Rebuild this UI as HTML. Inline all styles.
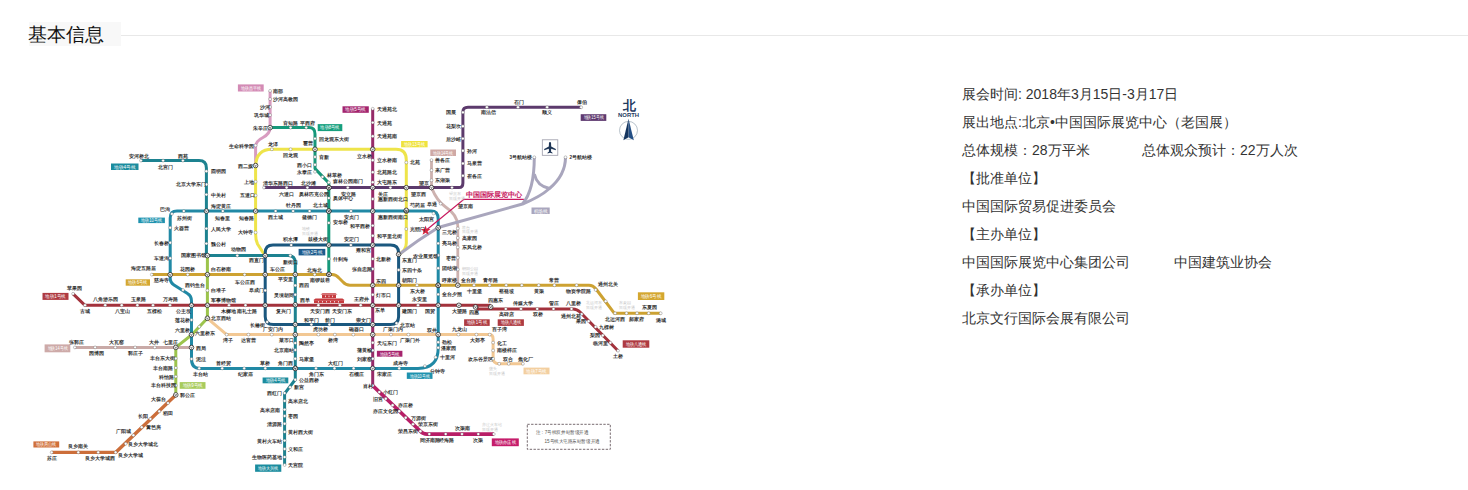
<!DOCTYPE html>
<html><head><meta charset="utf-8">
<style>
html,body{margin:0;padding:0;background:#fff;width:1468px;height:490px;overflow:hidden;position:relative;font-family:"Liberation Sans",sans-serif;}
.hd{position:absolute;left:29px;top:22px;width:92px;height:24px;background:#f8f8f8;}
.hd span{position:absolute;left:-1.5px;top:0.5px;font-size:18.5px;line-height:24px;color:#111;white-space:nowrap;}
.hl{position:absolute;left:121px;top:35px;width:1347px;height:1px;background:#e8e8e8;}
.info{position:absolute;left:962px;top:80px;font-size:14px;line-height:28px;color:#333;white-space:nowrap;}
.info div{height:28px;position:relative;}
#map{position:absolute;left:0;top:0;}
</style></head><body>
<div class="hd"><span>基本信息</span></div>
<div class="hl"></div>
<svg id="map" width="1468" height="490" viewBox="0 0 1468 490">
<g fill="none" stroke-linejoin="round" stroke-linecap="butt">
<path stroke="#CDB2AF" stroke-width="2.8" d="M431.5,159.8 V187.6 Q437,201 445,206.5 Q457.8,215 457.8,226 V285.5"/>
<path stroke="#C9AAA7" stroke-width="3.0" d="M74.9,347.4 H191.5"/>
<path stroke="#D89CC0" stroke-width="3.0" d="M270.1,90.9 V127.6 Q270,134 263,137.5 Q255.6,141 255.6,147 V165.5"/>
<path stroke="#EEE44A" stroke-width="3.0" d="M265,255.6 L257.5,244 Q255.6,240 255.6,234 V165.6 Q256.5,149.3 272,149.3 H396 Q406.3,149.3 406.3,160 V243 Q406.3,250 399.2,254.3"/>
<path stroke="#5C3A6C" stroke-width="3.0" d="M264.3,187.6 H459 Q462.9,187.6 462.9,183 V112 Q462.9,107.3 468,107.3 H581.2"/>
<path stroke="#16987A" stroke-width="3.0" d="M270.1,127.6 H309 Q315,127.6 315,134 V168.6 L328.8,183 V274.4"/>
<path stroke="#1D8290" stroke-width="3.0" d="M141,160.6 H199 Q206.4,160.6 206.4,168 V255.6 H288 Q295.3,255.6 295.3,263 V379.5 L284.6,393.6 V465"/>
<path stroke="#9CC44C" stroke-width="3.0" d="M207.4,255.6 V318.3 L191.5,335 L175.8,347.4 V394.9"/>
<path stroke="#CC6E3A" stroke-width="3.4" d="M175.8,394.9 L115.6,452.4 H51.7"/>
<path stroke="#2189A5" stroke-width="3.0" d="M177,211.1 H431 Q438.2,211.1 438.2,219 V348 Q438.2,368.4 418,368.4 H200 Q191.5,368.4 191.5,359 V301 Q191.5,296 187.5,293.6 L174,285 Q170.2,282.5 170.2,278 V218 Q170.2,211.1 177,211.1 Z"/>
<path stroke="#1B587F" stroke-width="3.0" d="M273,245.1 H390.5 Q398.6,245.1 398.6,253 V316.5 Q398.6,324.6 390.5,324.6 H273.3 Q265.2,324.6 265.2,316.5 V253 Q265.2,245.1 273,245.1 Z"/>
<path stroke="#962A68" stroke-width="3.0" d="M372.7,108.8 V385.6"/>
<path stroke="#B81E67" stroke-width="3.6" d="M372.7,385.6 L420.4,431.3 Q423,434.1 427,434.1 H493.8"/>
<path stroke="#CDA232" stroke-width="3.0" d="M151.8,274.6 H332 Q336,274.6 339,278 L343,282 Q346,285.3 350,285.3 H589 Q593,285.3 596,289 L614.4,313.3 H660.7"/>
<path stroke="#F2C894" stroke-width="3.0" d="M207.4,318.3 L226.7,334.6 H489 Q493.1,334.6 493.1,339 V358 Q493.1,363.8 499,363.8 H522.9"/>
<path stroke="#A3323C" stroke-width="3.0" d="M73.1,293.8 L85,305.3 H475.5 L478,308.9 H573 Q577,308.9 580,312 L618,350.7"/>
<path stroke="#A3323C" stroke-width="3.0" d="M475.5,305.3 H490.7"/>
<path stroke="#A9A6BD" stroke-width="3.0" d="M399.2,254.3 Q418,240 438.2,227.5 L522.5,204 Q540,197 549.5,188.5 Q565.5,175 565.5,157.3"/>
<path stroke="#A9A6BD" stroke-width="3.0" d="M522.5,204 Q534.3,190 534.3,157.3"/>
<path stroke="#A9A6BD" stroke-width="3.0" d="M534.3,174 Q537,186 549.5,188.5"/>
</g>
<path d="M425.5,230.8 L463.9,199.3 H523.8" fill="none" stroke="#C8195F" stroke-width="1.3"/>
<text x="465.6" y="197" font-size="7.3" font-weight="bold" fill="#C8195F" font-family="Liberation Sans,sans-serif" textLength="57" lengthAdjust="spacingAndGlyphs">中国国际展览中心</text>
<polygon points="425.6,225.4 426.8,228.9 430.5,229.0 427.6,231.2 428.7,234.8 425.6,232.7 422.5,234.8 423.6,231.2 420.7,229.0 424.4,228.9" fill="#D8263F"/>
<g fill="#fff" stroke="#555" stroke-width="0.35">
<circle cx="141" cy="160.6" r="1.45"/>
<circle cx="163.1" cy="160.6" r="1.45"/>
<circle cx="182.9" cy="160.6" r="1.45"/>
<circle cx="206.4" cy="171.3" r="1.45"/>
<circle cx="206.4" cy="184.5" r="1.45"/>
<circle cx="206.4" cy="194.6" r="1.45"/>
<circle cx="206.4" cy="228.6" r="1.45"/>
<circle cx="206.4" cy="243.6" r="1.45"/>
<circle cx="237.3" cy="255.6" r="1.45"/>
<circle cx="290.3" cy="255.6" r="1.45"/>
<circle cx="295.3" cy="285.5" r="1.45"/>
<circle cx="295.3" cy="294.7" r="1.45"/>
<circle cx="295.3" cy="343.1" r="1.45"/>
<circle cx="295.3" cy="350" r="1.45"/>
<circle cx="295.3" cy="358.7" r="1.45"/>
<circle cx="295.3" cy="379.8" r="1.45"/>
<circle cx="290.1" cy="387.2" r="1.45"/>
<circle cx="284.6" cy="393.1" r="1.45"/>
<circle cx="284.6" cy="400.9" r="1.45"/>
<circle cx="284.6" cy="409.6" r="1.45"/>
<circle cx="284.6" cy="416" r="1.45"/>
<circle cx="284.6" cy="423.8" r="1.45"/>
<circle cx="284.6" cy="431.9" r="1.45"/>
<circle cx="284.6" cy="440.6" r="1.45"/>
<circle cx="284.6" cy="449" r="1.45"/>
<circle cx="284.6" cy="457.1" r="1.45"/>
<circle cx="284.6" cy="465" r="1.45"/>
<circle cx="171.9" cy="213.9" r="1.45"/>
<circle cx="183.8" cy="211.1" r="1.45"/>
<circle cx="222.8" cy="211.1" r="1.45"/>
<circle cx="170.2" cy="227.7" r="1.45"/>
<circle cx="170.2" cy="242.7" r="1.45"/>
<circle cx="170.2" cy="258.3" r="1.45"/>
<circle cx="183" cy="290" r="1.45"/>
<circle cx="191.5" cy="320" r="1.45"/>
<circle cx="191.5" cy="359" r="1.45"/>
<circle cx="199.2" cy="368.4" r="1.45"/>
<circle cx="222.2" cy="368.4" r="1.45"/>
<circle cx="244.2" cy="368.4" r="1.45"/>
<circle cx="265.3" cy="368.4" r="1.45"/>
<circle cx="316" cy="368.4" r="1.45"/>
<circle cx="334.5" cy="368.4" r="1.45"/>
<circle cx="353.6" cy="368.4" r="1.45"/>
<circle cx="399.2" cy="368.4" r="1.45"/>
<circle cx="424.9" cy="366.1" r="1.45"/>
<circle cx="435.6" cy="357.3" r="1.45"/>
<circle cx="438.2" cy="342.2" r="1.45"/>
<circle cx="438.2" cy="347.7" r="1.45"/>
<circle cx="438.2" cy="294.4" r="1.45"/>
<circle cx="438.2" cy="268.2" r="1.45"/>
<circle cx="438.2" cy="255.3" r="1.45"/>
<circle cx="438.2" cy="243.4" r="1.45"/>
<circle cx="433.6" cy="213.4" r="1.45"/>
<circle cx="275.6" cy="211.1" r="1.45"/>
<circle cx="293.1" cy="211.1" r="1.45"/>
<circle cx="309.6" cy="211.1" r="1.45"/>
<circle cx="351" cy="211.1" r="1.45"/>
<circle cx="255.6" cy="145.5" r="1.45"/>
<circle cx="255.6" cy="181.7" r="1.45"/>
<circle cx="255.6" cy="195.5" r="1.45"/>
<circle cx="255.6" cy="232.5" r="1.45"/>
<circle cx="271.9" cy="149.3" r="1.45"/>
<circle cx="290.6" cy="149.3" r="1.45"/>
<circle cx="406.3" cy="162.5" r="1.45"/>
<circle cx="406.3" cy="229" r="1.45"/>
<circle cx="270.1" cy="90.9" r="1.45"/>
<circle cx="270.1" cy="99.1" r="1.45"/>
<circle cx="270.1" cy="107" r="1.45"/>
<circle cx="270.1" cy="115.1" r="1.45"/>
<circle cx="290.6" cy="127.6" r="1.45"/>
<circle cx="306.2" cy="127.6" r="1.45"/>
<circle cx="315" cy="138.6" r="1.45"/>
<circle cx="315" cy="157" r="1.45"/>
<circle cx="315" cy="164.8" r="1.45"/>
<circle cx="315" cy="171.8" r="1.45"/>
<circle cx="322.5" cy="176.9" r="1.45"/>
<circle cx="328.8" cy="182.5" r="1.45"/>
<circle cx="328.8" cy="258.9" r="1.45"/>
<circle cx="328.8" cy="198.1" r="1.45"/>
<circle cx="328.8" cy="222.9" r="1.45"/>
<circle cx="264" cy="187.6" r="1.45"/>
<circle cx="286.6" cy="187.6" r="1.45"/>
<circle cx="307.4" cy="187.6" r="1.45"/>
<circle cx="347.8" cy="187.6" r="1.45"/>
<circle cx="390.4" cy="187.6" r="1.45"/>
<circle cx="452" cy="187.6" r="1.45"/>
<circle cx="462.9" cy="175.7" r="1.45"/>
<circle cx="462.9" cy="163.5" r="1.45"/>
<circle cx="462.9" cy="150.8" r="1.45"/>
<circle cx="462.9" cy="138.6" r="1.45"/>
<circle cx="462.9" cy="126.3" r="1.45"/>
<circle cx="462.9" cy="112.4" r="1.45"/>
<circle cx="486.9" cy="107.3" r="1.45"/>
<circle cx="518" cy="107.3" r="1.45"/>
<circle cx="547.1" cy="107.3" r="1.45"/>
<circle cx="581.2" cy="107.3" r="1.45"/>
<circle cx="431.5" cy="160.1" r="1.45"/>
<circle cx="431.5" cy="170.2" r="1.45"/>
<circle cx="431.5" cy="180.3" r="1.45"/>
<circle cx="440.6" cy="203.6" r="1.45"/>
<circle cx="457.8" cy="228.5" r="1.45"/>
<circle cx="457.8" cy="237.9" r="1.45"/>
<circle cx="457.8" cy="247.4" r="1.45"/>
<circle cx="457.8" cy="257.7" r="1.45"/>
<circle cx="457.8" cy="269.5" r="1.45"/>
<circle cx="372.7" cy="108.8" r="1.45"/>
<circle cx="372.7" cy="122.6" r="1.45"/>
<circle cx="372.7" cy="136.3" r="1.45"/>
<circle cx="372.7" cy="160.2" r="1.45"/>
<circle cx="372.7" cy="172.2" r="1.45"/>
<circle cx="372.7" cy="182.3" r="1.45"/>
<circle cx="372.7" cy="199" r="1.45"/>
<circle cx="372.7" cy="225.6" r="1.45"/>
<circle cx="372.7" cy="235.7" r="1.45"/>
<circle cx="372.7" cy="258.9" r="1.45"/>
<circle cx="372.7" cy="269" r="1.45"/>
<circle cx="372.7" cy="294.7" r="1.45"/>
<circle cx="372.7" cy="342.7" r="1.45"/>
<circle cx="372.7" cy="350.4" r="1.45"/>
<circle cx="372.7" cy="358.7" r="1.45"/>
<circle cx="372.7" cy="385.6" r="1.45"/>
<circle cx="379.3" cy="392.1" r="1.45"/>
<circle cx="385.8" cy="398.7" r="1.45"/>
<circle cx="392.6" cy="405.2" r="1.45"/>
<circle cx="399.2" cy="411.2" r="1.45"/>
<circle cx="405.7" cy="417.7" r="1.45"/>
<circle cx="413" cy="424.3" r="1.45"/>
<circle cx="420.4" cy="431.3" r="1.45"/>
<circle cx="429.3" cy="434.1" r="1.45"/>
<circle cx="445.7" cy="434.1" r="1.45"/>
<circle cx="462" cy="434.1" r="1.45"/>
<circle cx="478.3" cy="434.1" r="1.45"/>
<circle cx="493.8" cy="434.1" r="1.45"/>
<circle cx="291.2" cy="245.1" r="1.45"/>
<circle cx="350.9" cy="245.1" r="1.45"/>
<circle cx="265.2" cy="290.5" r="1.45"/>
<circle cx="311.4" cy="324.6" r="1.45"/>
<circle cx="329.4" cy="324.6" r="1.45"/>
<circle cx="396.5" cy="323.2" r="1.45"/>
<circle cx="398.6" cy="270" r="1.45"/>
<circle cx="267.2" cy="322" r="1.45"/>
<circle cx="151.8" cy="274.6" r="1.45"/>
<circle cx="187.7" cy="274.6" r="1.45"/>
<circle cx="244.6" cy="274.6" r="1.45"/>
<circle cx="314.7" cy="274.6" r="1.45"/>
<circle cx="417" cy="285.3" r="1.45"/>
<circle cx="474" cy="285.3" r="1.45"/>
<circle cx="489.6" cy="285.3" r="1.45"/>
<circle cx="506.2" cy="285.3" r="1.45"/>
<circle cx="521.8" cy="285.3" r="1.45"/>
<circle cx="538.7" cy="285.3" r="1.45"/>
<circle cx="554.4" cy="285.3" r="1.45"/>
<circle cx="576.6" cy="285.3" r="1.45"/>
<circle cx="595.6" cy="289.9" r="1.45"/>
<circle cx="605.7" cy="301.3" r="1.45"/>
<circle cx="615.1" cy="313.3" r="1.45"/>
<circle cx="626.5" cy="313.3" r="1.45"/>
<circle cx="637" cy="313.3" r="1.45"/>
<circle cx="648.7" cy="313.3" r="1.45"/>
<circle cx="660.7" cy="313.3" r="1.45"/>
<circle cx="73.1" cy="293.8" r="1.45"/>
<circle cx="85" cy="305.3" r="1.45"/>
<circle cx="105.2" cy="305.3" r="1.45"/>
<circle cx="121.7" cy="305.3" r="1.45"/>
<circle cx="137.4" cy="305.3" r="1.45"/>
<circle cx="153" cy="305.3" r="1.45"/>
<circle cx="170" cy="305.3" r="1.45"/>
<circle cx="229" cy="305.3" r="1.45"/>
<circle cx="245.5" cy="305.3" r="1.45"/>
<circle cx="318.4" cy="305.3" r="1.45"/>
<circle cx="339.9" cy="305.3" r="1.45"/>
<circle cx="360.7" cy="305.3" r="1.45"/>
<circle cx="418" cy="305.3" r="1.45"/>
<circle cx="505.8" cy="308.9" r="1.45"/>
<circle cx="521" cy="308.9" r="1.45"/>
<circle cx="537.2" cy="308.9" r="1.45"/>
<circle cx="553.5" cy="308.9" r="1.45"/>
<circle cx="571.5" cy="308.9" r="1.45"/>
<circle cx="581.6" cy="314.2" r="1.45"/>
<circle cx="588.6" cy="321.2" r="1.45"/>
<circle cx="595.6" cy="326.9" r="1.45"/>
<circle cx="602.8" cy="335.5" r="1.45"/>
<circle cx="610.4" cy="342.7" r="1.45"/>
<circle cx="618" cy="350.7" r="1.45"/>
<circle cx="199.3" cy="326.7" r="1.45"/>
<circle cx="175.8" cy="358.5" r="1.45"/>
<circle cx="175.8" cy="367.9" r="1.45"/>
<circle cx="175.8" cy="376.6" r="1.45"/>
<circle cx="175.8" cy="385.5" r="1.45"/>
<circle cx="207.4" cy="290.5" r="1.45"/>
<circle cx="226.7" cy="334.6" r="1.45"/>
<circle cx="248.4" cy="334.6" r="1.45"/>
<circle cx="271.8" cy="334.6" r="1.45"/>
<circle cx="318.4" cy="334.6" r="1.45"/>
<circle cx="334.9" cy="334.6" r="1.45"/>
<circle cx="353.3" cy="334.6" r="1.45"/>
<circle cx="391" cy="334.6" r="1.45"/>
<circle cx="408.4" cy="334.6" r="1.45"/>
<circle cx="458.4" cy="334.6" r="1.45"/>
<circle cx="476.4" cy="334.6" r="1.45"/>
<circle cx="489.7" cy="334.6" r="1.45"/>
<circle cx="493.1" cy="342.6" r="1.45"/>
<circle cx="493.1" cy="350.5" r="1.45"/>
<circle cx="493.1" cy="358.7" r="1.45"/>
<circle cx="499.2" cy="363.8" r="1.45"/>
<circle cx="508.7" cy="363.8" r="1.45"/>
<circle cx="522.9" cy="363.8" r="1.45"/>
<circle cx="168" cy="403.1" r="1.45"/>
<circle cx="159.3" cy="411.4" r="1.45"/>
<circle cx="150.4" cy="418.9" r="1.45"/>
<circle cx="141.7" cy="427.3" r="1.45"/>
<circle cx="133.4" cy="435.3" r="1.45"/>
<circle cx="125.7" cy="443.8" r="1.45"/>
<circle cx="115.6" cy="452.4" r="1.45"/>
<circle cx="98.2" cy="452.4" r="1.45"/>
<circle cx="78.3" cy="452.4" r="1.45"/>
<circle cx="51.7" cy="452.4" r="1.45"/>
<circle cx="74.9" cy="347.4" r="1.45"/>
<circle cx="95.1" cy="347.4" r="1.45"/>
<circle cx="115.3" cy="347.4" r="1.45"/>
<circle cx="135.1" cy="347.4" r="1.45"/>
<circle cx="154.8" cy="347.4" r="1.45"/>
<circle cx="534.3" cy="157.3" r="1.45"/>
<circle cx="565.5" cy="157.3" r="1.45"/>
</g>
<g fill="#fff" stroke="#222" stroke-width="0.75">
<circle cx="206.4" cy="211.1" r="2.3"/>
<circle cx="207.4" cy="255.6" r="2.3"/>
<circle cx="295.3" cy="274.5" r="2.3"/>
<circle cx="295.3" cy="304.8" r="2.3"/>
<circle cx="295.3" cy="324.5" r="2.3"/>
<circle cx="295.3" cy="334.6" r="2.3"/>
<circle cx="295.3" cy="368.4" r="2.3"/>
<circle cx="255.6" cy="211.1" r="2.3"/>
<circle cx="170.2" cy="274.7" r="2.3"/>
<circle cx="191.5" cy="305.3" r="2.3"/>
<circle cx="191.5" cy="334.7" r="2.3"/>
<circle cx="191.5" cy="347.5" r="2.3"/>
<circle cx="295.3" cy="368.4" r="2.3"/>
<circle cx="372.7" cy="368.4" r="2.3"/>
<circle cx="438.2" cy="334.6" r="2.3"/>
<circle cx="438.2" cy="305.3" r="2.3"/>
<circle cx="438.2" cy="285.3" r="2.3"/>
<circle cx="438.2" cy="227.8" r="2.3"/>
<circle cx="406.3" cy="211.1" r="2.3"/>
<circle cx="372.7" cy="211.1" r="2.3"/>
<circle cx="328.8" cy="211.1" r="2.3"/>
<circle cx="255.6" cy="165.5" r="2.3"/>
<circle cx="315" cy="149.3" r="2.3"/>
<circle cx="372.7" cy="149.3" r="2.3"/>
<circle cx="406.3" cy="187.6" r="2.3"/>
<circle cx="406.3" cy="210.3" r="2.3"/>
<circle cx="270.1" cy="127.6" r="2.3"/>
<circle cx="328.8" cy="187.6" r="2.3"/>
<circle cx="328.8" cy="211.1" r="2.3"/>
<circle cx="328.8" cy="245.1" r="2.3"/>
<circle cx="328.8" cy="274.4" r="2.3"/>
<circle cx="328.9" cy="187.6" r="2.3"/>
<circle cx="372.7" cy="187.6" r="2.3"/>
<circle cx="431.5" cy="187.6" r="2.3"/>
<circle cx="457.8" cy="285.3" r="2.3"/>
<circle cx="458.9" cy="305.3" r="2.3"/>
<circle cx="372.7" cy="245.1" r="2.3"/>
<circle cx="372.7" cy="285.3" r="2.3"/>
<circle cx="372.7" cy="305.3" r="2.3"/>
<circle cx="372.7" cy="324.6" r="2.3"/>
<circle cx="372.7" cy="334.6" r="2.3"/>
<circle cx="265.2" cy="255.6" r="2.3"/>
<circle cx="265.2" cy="274.6" r="2.3"/>
<circle cx="265.2" cy="305.3" r="2.3"/>
<circle cx="398.6" cy="254.3" r="2.3"/>
<circle cx="398.6" cy="285.3" r="2.3"/>
<circle cx="398.6" cy="305.3" r="2.3"/>
<circle cx="207.4" cy="274.6" r="2.3"/>
<circle cx="329" cy="274.4" r="2.3"/>
<circle cx="438.2" cy="285.3" r="2.3"/>
<circle cx="207.4" cy="305.3" r="2.3"/>
<circle cx="475.5" cy="307" r="2.3"/>
<circle cx="490.7" cy="307" r="2.3"/>
<circle cx="207.4" cy="318.3" r="2.3"/>
<circle cx="175.8" cy="347.4" r="2.3"/>
<circle cx="175.8" cy="394.9" r="2.3"/>
</g>
<g fill="none" stroke="#333" stroke-width="0.6">
<path d="M205.4,210.2 L206.4,212.1 L207.4,210.2"/>
<path d="M206.4,254.7 L207.4,256.6 L208.4,254.7"/>
<path d="M294.3,273.6 L295.3,275.5 L296.3,273.6"/>
<path d="M294.3,303.9 L295.3,305.8 L296.3,303.9"/>
<path d="M294.3,323.6 L295.3,325.5 L296.3,323.6"/>
<path d="M294.3,333.7 L295.3,335.6 L296.3,333.7"/>
<path d="M294.3,367.5 L295.3,369.4 L296.3,367.5"/>
<path d="M254.6,210.2 L255.6,212.1 L256.6,210.2"/>
<path d="M169.2,273.8 L170.2,275.7 L171.2,273.8"/>
<path d="M190.5,304.4 L191.5,306.3 L192.5,304.4"/>
<path d="M190.5,333.8 L191.5,335.7 L192.5,333.8"/>
<path d="M190.5,346.6 L191.5,348.5 L192.5,346.6"/>
<path d="M294.3,367.5 L295.3,369.4 L296.3,367.5"/>
<path d="M371.7,367.5 L372.7,369.4 L373.7,367.5"/>
<path d="M437.2,333.7 L438.2,335.6 L439.2,333.7"/>
<path d="M437.2,304.4 L438.2,306.3 L439.2,304.4"/>
<path d="M437.2,284.4 L438.2,286.3 L439.2,284.4"/>
<path d="M437.2,226.9 L438.2,228.8 L439.2,226.9"/>
<path d="M405.3,210.2 L406.3,212.1 L407.3,210.2"/>
<path d="M371.7,210.2 L372.7,212.1 L373.7,210.2"/>
<path d="M327.8,210.2 L328.8,212.1 L329.8,210.2"/>
<path d="M254.6,164.6 L255.6,166.5 L256.6,164.6"/>
<path d="M314,148.4 L315,150.3 L316,148.4"/>
<path d="M371.7,148.4 L372.7,150.3 L373.7,148.4"/>
<path d="M405.3,186.7 L406.3,188.6 L407.3,186.7"/>
<path d="M405.3,209.4 L406.3,211.3 L407.3,209.4"/>
<path d="M269.1,126.7 L270.1,128.6 L271.1,126.7"/>
<path d="M327.8,186.7 L328.8,188.6 L329.8,186.7"/>
<path d="M327.8,210.2 L328.8,212.1 L329.8,210.2"/>
<path d="M327.8,244.2 L328.8,246.1 L329.8,244.2"/>
<path d="M327.8,273.5 L328.8,275.4 L329.8,273.5"/>
<path d="M327.9,186.7 L328.9,188.6 L329.9,186.7"/>
<path d="M371.7,186.7 L372.7,188.6 L373.7,186.7"/>
<path d="M430.5,186.7 L431.5,188.6 L432.5,186.7"/>
<path d="M456.8,284.4 L457.8,286.3 L458.8,284.4"/>
<path d="M457.9,304.4 L458.9,306.3 L459.9,304.4"/>
<path d="M371.7,244.2 L372.7,246.1 L373.7,244.2"/>
<path d="M371.7,284.4 L372.7,286.3 L373.7,284.4"/>
<path d="M371.7,304.4 L372.7,306.3 L373.7,304.4"/>
<path d="M371.7,323.7 L372.7,325.6 L373.7,323.7"/>
<path d="M371.7,333.7 L372.7,335.6 L373.7,333.7"/>
<path d="M264.2,254.7 L265.2,256.6 L266.2,254.7"/>
<path d="M264.2,273.7 L265.2,275.6 L266.2,273.7"/>
<path d="M264.2,304.4 L265.2,306.3 L266.2,304.4"/>
<path d="M397.6,253.4 L398.6,255.3 L399.6,253.4"/>
<path d="M397.6,284.4 L398.6,286.3 L399.6,284.4"/>
<path d="M397.6,304.4 L398.6,306.3 L399.6,304.4"/>
<path d="M206.4,273.7 L207.4,275.6 L208.4,273.7"/>
<path d="M328,273.5 L329,275.4 L330,273.5"/>
<path d="M437.2,284.4 L438.2,286.3 L439.2,284.4"/>
<path d="M206.4,304.4 L207.4,306.3 L208.4,304.4"/>
<path d="M474.5,306.1 L475.5,308 L476.5,306.1"/>
<path d="M489.7,306.1 L490.7,308 L491.7,306.1"/>
<path d="M206.4,317.4 L207.4,319.3 L208.4,317.4"/>
<path d="M174.8,346.5 L175.8,348.4 L176.8,346.5"/>
<path d="M174.8,394 L175.8,395.9 L176.8,394"/>
</g>
<g font-size="4.5" fill="#2a2a2a" font-weight="bold" font-family="Liberation Sans,sans-serif">
<text x="128.6" y="157.5">安河桥北</text>
<text x="157.6" y="169.4">北宫门</text>
<text x="177.8" y="157.5">西苑</text>
<text x="210.8" y="173.2">圆明园</text>
<text x="175.9" y="186.4">北京大学东门</text>
<text x="210.8" y="196.5">中关村</text>
<text x="210.8" y="207.6">海淀黄庄</text>
<text x="210.8" y="230.5">人民大学</text>
<text x="210.8" y="245.5">魏公村</text>
<text x="181" y="257.1">国家图书馆</text>
<text x="231" y="251.4">动物园</text>
<text x="249" y="262.4">西直门</text>
<text x="283" y="264.4">新街口</text>
<text x="278" y="281.4">平安里</text>
<text x="299" y="287.4">西四</text>
<text x="273.5" y="296.6">灵境胡同</text>
<text x="299.5" y="301.9">西单</text>
<text x="298.6" y="345">陶然亭</text>
<text x="274" y="351.9">北京南站</text>
<text x="298.6" y="360.6">马家堡</text>
<text x="299" y="381.7">公益西桥</text>
<text x="293.5" y="389.1">新宫</text>
<text x="267" y="395">西红门</text>
<text x="288" y="402.8">高米店北</text>
<text x="259.5" y="411.5">高米店南</text>
<text x="288" y="417.9">枣园</text>
<text x="266.5" y="425.7">清源路</text>
<text x="288" y="433.8">黄村西大街</text>
<text x="257" y="442.5">黄村火车站</text>
<text x="288" y="450.9">义和庄</text>
<text x="251.5" y="459">生物医药基地</text>
<text x="288" y="466.9">天宫院</text>
<text x="160.3" y="211.2">巴沟</text>
<text x="176.8" y="219.9">苏州街</text>
<text x="215.4" y="219.9">知春里</text>
<text x="239.3" y="219.9">知春路</text>
<text x="174" y="229.6">火器营</text>
<text x="153.7" y="244.6">长春桥</text>
<text x="153.7" y="260.2">车道沟</text>
<text x="153.7" y="281.9">慈寿寺</text>
<text x="185" y="287.4">西钓鱼台</text>
<text x="176" y="312.9">公主坟</text>
<text x="175" y="321.9">莲花桥</text>
<text x="175" y="331.9">六里桥</text>
<text x="195.5" y="349.6">西局</text>
<text x="195.5" y="360.6">泥洼</text>
<text x="192.5" y="376.4">丰台站</text>
<text x="215.7" y="365.4">首经贸</text>
<text x="237.9" y="376.4">纪家庙</text>
<text x="259.8" y="365.4">草桥</text>
<text x="278.2" y="365.4">角门西</text>
<text x="309.4" y="376.4">角门东</text>
<text x="327.5" y="365.4">大红门</text>
<text x="348.7" y="376.4">石榴庄</text>
<text x="377.2" y="376.4">宋家庄</text>
<text x="392.8" y="365.4">成寿寺</text>
<text x="429.5" y="373.4">分钟寺</text>
<text x="439.5" y="359.1">十里河</text>
<text x="441.5" y="343.9">劲松</text>
<text x="441.3" y="349.6">潘家园</text>
<text x="427" y="331.9">双井</text>
<text x="442" y="245.3">亮马桥</text>
<text x="413.4" y="257.9">农业展览馆</text>
<text x="442" y="270.1">团结湖</text>
<text x="442" y="282.4">呼家楼</text>
<text x="442" y="296.3">金台夕照</text>
<text x="425" y="312.9">国贸</text>
<text x="418.9" y="220.7">太阳宫</text>
<text x="441.8" y="233.7">三元桥</text>
<text x="409.7" y="207.1">芍药居</text>
<text x="268.3" y="218.9">西土城</text>
<text x="285.7" y="206.9">牡丹园</text>
<text x="302.3" y="218.9">健德门</text>
<text x="313.3" y="206.9">北土城</text>
<text x="343.6" y="218.9">安贞门</text>
<text x="377.6" y="218.9">惠新西街南口</text>
<text x="229.2" y="148.4">生命科学园</text>
<text x="238.4" y="167.6">西二旗</text>
<text x="243.9" y="183.6">上地</text>
<text x="240" y="197.4">五道口</text>
<text x="237.5" y="234.4">大钟寺</text>
<text x="267.7" y="146.1">龙泽</text>
<text x="283.3" y="156.6">回龙观</text>
<text x="302.6" y="145.1">霍营</text>
<text x="357" y="158">立水桥</text>
<text x="410" y="164.4">北苑</text>
<text x="410.6" y="195.9">望京西</text>
<text x="410" y="230.9">光熙门</text>
<text x="273.2" y="92.8">南邵</text>
<text x="273.2" y="101">沙河高教园</text>
<text x="260.3" y="108.9">沙河</text>
<text x="253.9" y="117">巩华城</text>
<text x="253" y="129.6">朱辛庄</text>
<text x="283.3" y="124.9">育知路</text>
<text x="299.8" y="124.9">平西府</text>
<text x="319.1" y="140.9">回龙观东大街</text>
<text x="319" y="158.9">育新</text>
<text x="297" y="166.7">西小口</text>
<text x="297" y="173.7">永泰庄</text>
<text x="326.6" y="176.8">林萃桥</text>
<text x="333" y="182.9">森林公园南门</text>
<text x="332.6" y="200.4">奥体中心</text>
<text x="332.6" y="224.4">安华桥</text>
<text x="333" y="260.8">什刹海</text>
<text x="310" y="281.9">南锣鼓巷</text>
<text x="307" y="271.9">北海北</text>
<text x="262.8" y="184.9">清华东路西口</text>
<text x="279.3" y="195.9">六道口</text>
<text x="301.3" y="184.9">北沙滩</text>
<text x="298.6" y="195.9">奥林匹克公园</text>
<text x="340.8" y="195.9">安立路</text>
<text x="377.5" y="195.9">关庄</text>
<text x="418.9" y="184.9">望京</text>
<text x="466.8" y="177.6">崔各庄</text>
<text x="466.8" y="165.4">马泉营</text>
<text x="466.8" y="152.7">孙河</text>
<text x="446" y="140.5">后沙峪</text>
<text x="446" y="128.2">花梨坎</text>
<text x="446" y="114.3">国展</text>
<text x="481" y="114.4">南法信</text>
<text x="513.5" y="104.4">石门</text>
<text x="542" y="114.4">顺义</text>
<text x="576.5" y="104.4">俸伯</text>
<text x="509.4" y="159.2">3号航站楼</text>
<text x="569.6" y="159.2">2号航站楼</text>
<text x="434.5" y="162">善各庄</text>
<text x="434.5" y="172.1">来广营</text>
<text x="434.5" y="182.2">东湖渠</text>
<text x="427" y="206.4">阜通</text>
<text x="458.4" y="208.2">望京南</text>
<text x="461.5" y="239.8">高家园</text>
<text x="461.5" y="249.3">东风北桥</text>
<text x="445.5" y="259.6">枣营</text>
<text x="461" y="282.1">金台路</text>
<text x="377.2" y="110.7">天通苑北</text>
<text x="377.2" y="124.5">天通苑</text>
<text x="377.2" y="138.2">天通苑南</text>
<text x="377.2" y="162.1">立水桥南</text>
<text x="377.2" y="174.1">北苑路北</text>
<text x="377.2" y="184.2">大屯路东</text>
<text x="377.5" y="200.9">惠新西街北口</text>
<text x="350" y="227.5">和平西桥</text>
<text x="377" y="237.6">和平里北街</text>
<text x="356" y="252.4">雍和宫</text>
<text x="376" y="260.8">北新桥</text>
<text x="352" y="270.9">张自忠路</text>
<text x="376" y="282.9">东四</text>
<text x="376" y="296.6">灯市口</text>
<text x="375" y="312.4">东单</text>
<text x="356" y="321.9">崇文门</text>
<text x="376.5" y="344.6">天坛东门</text>
<text x="357" y="352.3">蒲黄榆</text>
<text x="357" y="360.6">刘家窑</text>
<text x="363" y="387.5">肖村</text>
<text x="383" y="394">小红门</text>
<text x="373" y="400.6">旧宫</text>
<text x="397.5" y="407.1">亦庄桥</text>
<text x="373" y="413.1">亦庄文化园</text>
<text x="410.5" y="419.6">万源街</text>
<text x="418" y="426.2">荣京东街</text>
<text x="398.4" y="433.2">荣昌东街</text>
<text x="419.6" y="441.9">同济南路</text>
<text x="439.3" y="441.9">经海路</text>
<text x="455.4" y="430.4">次渠南</text>
<text x="473.4" y="441.9">次渠</text>
<text x="282.5" y="241.4">积水潭</text>
<text x="308" y="241.4">鼓楼大街</text>
<text x="343.6" y="241.4">安定门</text>
<text x="250.2" y="326.9">长椿街</text>
<text x="249.2" y="292.4">阜成门</text>
<text x="303.8" y="321.9">和平门</text>
<text x="324.7" y="321.9">前门</text>
<text x="400" y="327.4">北京站</text>
<text x="402.3" y="262.3">东直门</text>
<text x="402.3" y="271.9">东四十条</text>
<text x="402.3" y="282.4">朝阳门</text>
<text x="402" y="312.9">建国门</text>
<text x="131.4" y="270.4">海淀五路居</text>
<text x="180" y="271.4">花园桥</text>
<text x="210.6" y="270.9">白石桥南</text>
<text x="234.5" y="283.9">车公庄西</text>
<text x="269.5" y="271.4">车公庄</text>
<text x="409.7" y="293.4">东大桥</text>
<text x="467" y="293.4">十里堡</text>
<text x="483" y="281.9">青年路</text>
<text x="499" y="293.4">褡裢坡</text>
<text x="533.5" y="293.4">黄渠</text>
<text x="549" y="281.9">常营</text>
<text x="565.8" y="293.4">物资学院路</text>
<text x="598" y="286.4">通州北关</text>
<text x="604.5" y="320.9">北运河西</text>
<text x="629.4" y="320.9">郝家府</text>
<text x="641.6" y="309.4">东夏园</text>
<text x="656" y="322.4">潞城</text>
<text x="66.5" y="290.4">苹果园</text>
<text x="80" y="312.9">古城</text>
<text x="93" y="301.4">八角游乐园</text>
<text x="115" y="312.9">八宝山</text>
<text x="131" y="301.4">玉泉路</text>
<text x="146.5" y="312.9">五棵松</text>
<text x="163" y="301.4">万寿路</text>
<text x="221" y="312.9">木樨地</text>
<text x="237" y="312.9">南礼士路</text>
<text x="276" y="312.9">复兴门</text>
<text x="310" y="312.9">天安门西</text>
<text x="331.7" y="312.9">天安门东</text>
<text x="353.5" y="301.4">王府井</text>
<text x="411.7" y="301.4">永安里</text>
<text x="452" y="312.9">大望路</text>
<text x="469" y="313.7">四惠</text>
<text x="488" y="302.4">四惠东</text>
<text x="498.5" y="315.9">高碑店</text>
<text x="513" y="305.4">传媒大学</text>
<text x="532.7" y="315.9">双桥</text>
<text x="548.7" y="305.4">管庄</text>
<text x="565.8" y="305.4">八里桥</text>
<text x="561" y="317.9">通州北苑</text>
<text x="576" y="323.1">果园</text>
<text x="598.5" y="328.8">九棵树</text>
<text x="589.6" y="337.4">梨园</text>
<text x="593.3" y="344.6">临河里</text>
<text x="613" y="358.4">土桥</text>
<text x="211" y="320.2">北京西站</text>
<text x="195" y="334.9">六里桥东</text>
<text x="211" y="292.4">白堆子</text>
<text x="211" y="301.9">军事博物馆</text>
<text x="150" y="360.4">丰台东大街</text>
<text x="153" y="369.8">丰台南路</text>
<text x="158.5" y="378.5">科怡路</text>
<text x="150.5" y="387.4">丰台科技园</text>
<text x="179.7" y="396.9">郭公庄</text>
<text x="222.5" y="342.4">湾子</text>
<text x="240.5" y="342.4">达官营</text>
<text x="262.5" y="330.9">广安门内</text>
<text x="279" y="342.4">菜市口</text>
<text x="312.5" y="330.9">虎坊桥</text>
<text x="327.5" y="342.4">桥湾</text>
<text x="348.7" y="330.9">磁器口</text>
<text x="382.6" y="330.9">广渠门内</text>
<text x="400" y="342.4">广渠门外</text>
<text x="452" y="330.9">九龙山</text>
<text x="470" y="342.4">大郊亭</text>
<text x="491.5" y="330.9">百子湾</text>
<text x="497" y="344.5">化工</text>
<text x="497" y="352.4">南楼梓庄</text>
<text x="468" y="360.6">欢乐谷景区</text>
<text x="503" y="360.9">双合</text>
<text x="517.5" y="360.9">焦化厂</text>
<text x="69" y="344.4">张郭庄</text>
<text x="88.7" y="354.6">园博园</text>
<text x="109" y="344.4">大瓦窑</text>
<text x="128" y="354.6">郭庄子</text>
<text x="149.3" y="344.4">大井</text>
<text x="163" y="344.4">七里庄</text>
<text x="151.2" y="401.1">大葆台</text>
<text x="163" y="415.4">稻田</text>
<text x="137.8" y="417.9">长阳</text>
<text x="145.6" y="429.2">篱笆房</text>
<text x="116.4" y="432.9">广阳城</text>
<text x="128" y="445.7">良乡大学城北</text>
<text x="118" y="456.9">良乡大学城</text>
<text x="84.6" y="460.4">良乡大学城西</text>
<text x="68.2" y="448.4">良乡南关</text>
<text x="47" y="460.4">苏庄</text>
</g>
<rect x="237.9" y="84.4" width="25.8" height="7.1" fill="#D38BB5"/>
<text x="250.8" y="89.8" font-size="5" fill="#fff" text-anchor="middle" font-family="Liberation Sans,sans-serif" textLength="20.1" lengthAdjust="spacingAndGlyphs">地铁昌平线</text>
<rect x="342.5" y="106.3" width="26.3" height="6.5" fill="#A3246E"/>
<text x="355.6" y="111.3" font-size="5" fill="#fff" text-anchor="middle" font-family="Liberation Sans,sans-serif" textLength="20.5" lengthAdjust="spacingAndGlyphs">地铁5号线</text>
<rect x="317.7" y="124.1" width="24.6" height="7" fill="#169F7E"/>
<text x="330" y="129.4" font-size="5" fill="#fff" text-anchor="middle" font-family="Liberation Sans,sans-serif" textLength="19.2" lengthAdjust="spacingAndGlyphs">地铁8号线</text>
<rect x="111" y="163.5" width="27.5" height="6.5" fill="#1B8C9E"/>
<text x="124.8" y="168.6" font-size="5" fill="#fff" text-anchor="middle" font-family="Liberation Sans,sans-serif" textLength="21.4" lengthAdjust="spacingAndGlyphs">地铁4号线</text>
<rect x="138.3" y="217.6" width="26.6" height="5.5" fill="#1F92AE"/>
<text x="151.6" y="222.2" font-size="5" fill="#fff" text-anchor="middle" font-family="Liberation Sans,sans-serif" textLength="20.7" lengthAdjust="spacingAndGlyphs">地铁10号线</text>
<rect x="401.1" y="141" width="26.5" height="6.3" fill="#EFE33D"/>
<text x="414.4" y="146" font-size="5" fill="#fff" text-anchor="middle" font-family="Liberation Sans,sans-serif" textLength="20.7" lengthAdjust="spacingAndGlyphs">地铁13号线</text>
<rect x="430.3" y="149.5" width="25.7" height="6.5" fill="#CFA9A5"/>
<text x="443.1" y="154.6" font-size="5" fill="#fff" text-anchor="middle" font-family="Liberation Sans,sans-serif" textLength="20" lengthAdjust="spacingAndGlyphs">地铁14号线</text>
<rect x="580.7" y="114.2" width="25.6" height="6.7" fill="#5F3A70"/>
<text x="593.5" y="119.4" font-size="5" fill="#fff" text-anchor="middle" font-family="Liberation Sans,sans-serif" textLength="20" lengthAdjust="spacingAndGlyphs">地铁15号线</text>
<rect x="531.5" y="207.5" width="18.2" height="6.5" fill="#A9A6BD"/>
<text x="540.6" y="212.6" font-size="5" fill="#fff" text-anchor="middle" font-family="Liberation Sans,sans-serif" textLength="14.2" lengthAdjust="spacingAndGlyphs">机场线</text>
<rect x="298.6" y="248.9" width="26.7" height="6.5" fill="#1C5B8D"/>
<text x="312" y="254" font-size="5" fill="#fff" text-anchor="middle" font-family="Liberation Sans,sans-serif" textLength="20.8" lengthAdjust="spacingAndGlyphs">地铁2号线</text>
<rect x="125.7" y="279.3" width="24.3" height="6.4" fill="#D4A730"/>
<text x="137.8" y="284.3" font-size="5" fill="#fff" text-anchor="middle" font-family="Liberation Sans,sans-serif" textLength="19" lengthAdjust="spacingAndGlyphs">地铁6号线</text>
<rect x="637.9" y="292.3" width="26.4" height="7.7" fill="#D4A730"/>
<text x="651.1" y="297.9" font-size="5" fill="#fff" text-anchor="middle" font-family="Liberation Sans,sans-serif" textLength="20.6" lengthAdjust="spacingAndGlyphs">地铁6号线</text>
<rect x="42.5" y="292.9" width="26" height="7" fill="#AE3A41"/>
<text x="55.5" y="298.2" font-size="5" fill="#fff" text-anchor="middle" font-family="Liberation Sans,sans-serif" textLength="20.3" lengthAdjust="spacingAndGlyphs">地铁1号线</text>
<rect x="464.1" y="319.3" width="25.6" height="6.6" fill="#AE3A41"/>
<text x="476.9" y="324.4" font-size="5" fill="#fff" text-anchor="middle" font-family="Liberation Sans,sans-serif" textLength="20" lengthAdjust="spacingAndGlyphs">地铁1号线</text>
<rect x="497.7" y="319.3" width="26.2" height="6.6" fill="#AE3A41"/>
<text x="510.8" y="324.4" font-size="5" fill="#fff" text-anchor="middle" font-family="Liberation Sans,sans-serif" textLength="20.4" lengthAdjust="spacingAndGlyphs">地铁八通线</text>
<rect x="622.7" y="340.3" width="26.6" height="7.4" fill="#AE3A41"/>
<text x="636" y="345.8" font-size="5" fill="#fff" text-anchor="middle" font-family="Liberation Sans,sans-serif" textLength="20.7" lengthAdjust="spacingAndGlyphs">地铁八通线</text>
<rect x="44.6" y="344.4" width="25.7" height="7.9" fill="#CDAAA8"/>
<text x="57.5" y="350.2" font-size="5" fill="#fff" text-anchor="middle" font-family="Liberation Sans,sans-serif" textLength="20" lengthAdjust="spacingAndGlyphs">地铁14号线</text>
<rect x="376.9" y="350.8" width="25.5" height="5.9" fill="#A6246E"/>
<text x="389.6" y="355.6" font-size="5" fill="#fff" text-anchor="middle" font-family="Liberation Sans,sans-serif" textLength="19.9" lengthAdjust="spacingAndGlyphs">地铁5号线</text>
<rect x="262.6" y="377.5" width="25.7" height="5.8" fill="#1B8C9E"/>
<text x="275.5" y="382.2" font-size="5" fill="#fff" text-anchor="middle" font-family="Liberation Sans,sans-serif" textLength="20" lengthAdjust="spacingAndGlyphs">地铁4号线</text>
<rect x="406.8" y="372.5" width="25.7" height="6.4" fill="#1F92AE"/>
<text x="419.6" y="377.5" font-size="5" fill="#fff" text-anchor="middle" font-family="Liberation Sans,sans-serif" textLength="20" lengthAdjust="spacingAndGlyphs">地铁10号线</text>
<rect x="523.5" y="367.6" width="26" height="6.7" fill="#F3CFA0"/>
<text x="536.5" y="372.8" font-size="5" fill="#fff" text-anchor="middle" font-family="Liberation Sans,sans-serif" textLength="20.3" lengthAdjust="spacingAndGlyphs">地铁7号线</text>
<rect x="179.7" y="382.1" width="25.8" height="6.7" fill="#A8CB5C"/>
<text x="192.6" y="387.3" font-size="5" fill="#fff" text-anchor="middle" font-family="Liberation Sans,sans-serif" textLength="20.1" lengthAdjust="spacingAndGlyphs">地铁9号线</text>
<rect x="33.4" y="441.4" width="25.8" height="6.1" fill="#D0703A"/>
<text x="46.3" y="446.2" font-size="5" fill="#fff" text-anchor="middle" font-family="Liberation Sans,sans-serif" textLength="20.1" lengthAdjust="spacingAndGlyphs">地铁房山线</text>
<rect x="255.1" y="464.5" width="26.2" height="7.3" fill="#1B8C9E"/>
<text x="268.2" y="469.9" font-size="5" fill="#fff" text-anchor="middle" font-family="Liberation Sans,sans-serif" textLength="20.4" lengthAdjust="spacingAndGlyphs">地铁大兴线</text>
<rect x="491.8" y="438.4" width="27" height="7.8" fill="#C51C6A"/>
<text x="505.3" y="444.1" font-size="5" fill="#fff" text-anchor="middle" font-family="Liberation Sans,sans-serif" textLength="21.1" lengthAdjust="spacingAndGlyphs">地铁亦庄线</text>
<rect x="542.3" y="139.8" width="15.5" height="15.5" fill="#fff" stroke="#9a9aa8" stroke-width="0.8"/>
<path d="M550,142 L551,142.5 L551.2,146.5 L555.8,149 L555.8,150.2 L551.2,148.8 L551,151.5 L552.5,152.8 L552.5,153.5 L550,152.8 L547.5,153.5 L547.5,152.8 L549,151.5 L548.8,148.8 L544.2,150.2 L544.2,149 L548.8,146.5 L549,142.5 Z" fill="#1E3555"/>
<text x="629.3" y="109.8" font-size="12.5" font-weight="bold" fill="#1E3A5F" text-anchor="middle" font-family="Liberation Sans,sans-serif">北</text>
<text x="628.6" y="117" font-size="5.6" font-weight="bold" fill="#1E3A5F" text-anchor="middle" font-family="Liberation Sans,sans-serif" textLength="21" lengthAdjust="spacingAndGlyphs">NORTH</text>
<circle cx="628.5" cy="130.4" r="9" fill="none" stroke="#8a9aa8" stroke-width="0.6"/>
<path d="M628.5,118.8 L633.8,140.2 L628.5,137.2 Z" fill="#244F85"/><path d="M628.5,118.8 L623.4,140.2 L628.5,137.2 Z" fill="#14345E"/>
<g fill="#C63B3F"><path d="M320.5,294.6 L322.5,293.2 H335.5 L337.5,294.6 Z"/><rect x="322" y="294.6" width="14" height="3.6"/><path d="M313.2,300.2 L315.5,298.6 H342.5 L344.8,300.2 Z"/><rect x="314" y="300.2" width="30" height="2.9"/></g>
<g fill="#fff" opacity="0.75"><rect x="325" y="295.6" width="1" height="1.6"/><rect x="328.5" y="295.6" width="1" height="1.6"/><rect x="332" y="295.6" width="1" height="1.6"/><rect x="318" y="301" width="1" height="1.5"/><rect x="322" y="301" width="1" height="1.5"/><rect x="326" y="301" width="1" height="1.5"/><rect x="330" y="301" width="1" height="1.5"/><rect x="334" y="301" width="1" height="1.5"/><rect x="338" y="301" width="1" height="1.5"/></g>
<g font-size="4.3" fill="#c4c4c4" font-family="Liberation Sans,sans-serif">
<text x="448.5" y="195">望京东</text><text x="448.5" y="199.8">暂缓开通</text>
<text x="462" y="228.5">将台</text><text x="462" y="233.3">暂缓开通</text>
<text x="461.5" y="270">朝阳公园</text><text x="461.5" y="274.8">暂缓开通</text>
<text x="586" y="304">北运河东</text><text x="586" y="308.8">暂缓开通</text>
<text x="618.5" y="304">东夏园</text><text x="618.5" y="308.8">暂缓开通</text>
<text x="489" y="370">垡头</text><text x="489" y="374.8">暂缓开通</text>
<text x="482" y="426">亦庄火车站</text><text x="482" y="430.8">暂缓开通</text>
<text x="302" y="230">地铁</text><text x="302" y="234.8">暂缓开通</text>
</g>
<rect x="527.3" y="424.3" width="83" height="25" fill="none" stroke="#4a3a40" stroke-width="0.75" stroke-dasharray="2.4,1.4"/>
<text x="535.6" y="433.8" font-size="5" fill="#555" font-family="Liberation Sans,sans-serif" textLength="52.8" lengthAdjust="spacingAndGlyphs">注：7号线双井站暂缓开通</text>
<text x="544.6" y="443" font-size="5" fill="#555" font-family="Liberation Sans,sans-serif" textLength="55" lengthAdjust="spacingAndGlyphs">15号线大屯路东站暂缓开通</text>
</svg>
<div class="info">
<div>展会时间: 2018年3月15日-3月17日</div>
<div>展出地点:北京•中国国际展览中心（老国展）</div>
<div>总体规模：28万平米<span style="position:absolute;left:180px">总体观众预计：22万人次</span></div>
<div>【批准单位】</div>
<div>中国国际贸易促进委员会</div>
<div>【主办单位】</div>
<div>中国国际展览中心集团公司<span style="position:absolute;left:212px">中国建筑业协会</span></div>
<div>【承办单位】</div>
<div>北京文行国际会展有限公司</div>
</div>
</body></html>
